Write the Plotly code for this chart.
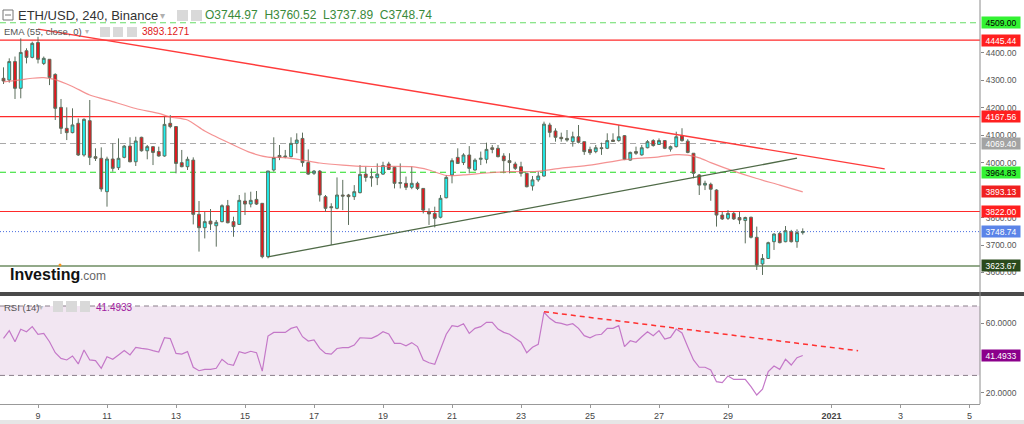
import plotly.graph_objects as go
import pandas as pd

# ---------------- data ----------------
opens = [4306.7, 4300.6, 4367.6, 4270.3, 4407, 4383, 4437, 4361, 4376, 4321,
         4201, 4124.7, 4109, 4143, 4027.6, 4152.6, 4021.5, 4015.5, 3894, 4013,
         3981.5, 4019, 4060, 4003, 4092, 4043, 4058, 4040, 4024, 4143,
         4131, 3999.7, 3985, 4009, 3811.6, 3763, 3787, 3770, 3785, 3843,
         3785, 3775, 3860, 3849, 3866, 3851.7, 3657.6, 3973, 4026, 4024,
         4021.5, 4070, 4088, 4000, 3961, 3969, 3876, 3839.5, 3833.5, 3882,
         3882, 3876, 3890.5, 3958, 3948.7, 3945, 3958, 3995, 3983, 3924.5,
         3924.5, 3910, 3924.5, 3906, 3821, 3815, 3801, 3872, 3955, 4019,
         4000, 4027.6, 3973, 4012, 4012, 4054, 4052, 4024, 4007, 3995,
         3985, 3961, 3915, 3937, 3951, 4136.8, 4115, 4092, 4088, 4076,
         4094, 4076, 4048, 4040, 4054, 4052, 4082, 4080, 4098, 4009,
         4040, 4028, 4054, 4080, 4066, 4080, 4049, 4058, 4097, 4078,
         4034, 3955, 3918, 3921, 3900, 3809, 3797, 3815, 3800, 3789,
         3801, 3728, 3631, 3651, 3712, 3742, 3712, 3748.5, 3712, 3744.97]
highs = [4346.7, 4379.5, 4386, 4452, 4416, 4440, 4458, 4386, 4376, 4325,
         4231.5, 4201, 4197.5, 4161, 4161, 4227.8, 4052, 4055.5, 4021.5, 4070,
         4088, 4064, 4092, 4094, 4094, 4064, 4058, 4058, 4167, 4173,
         4131, 4046, 4021.5, 4019, 3860, 3821, 3831, 3791, 3848, 3864,
         3803, 3882, 3890.5, 3894, 3896.6, 3852, 3969.4, 4092, 4064, 4046,
         4092, 4106.5, 4109, 4048, 3973, 3973, 3882, 3852, 3946, 3937,
         3886, 3918, 3991, 3985, 3979, 3997, 4003, 4003, 3985, 3997,
         3949, 3985, 3930.5, 3906, 3833.5, 3839.5, 3882, 3955, 4015.5, 4052,
         4034, 4060, 4015.5, 4040, 4072.5, 4064, 4064, 4034, 4034, 4003,
         4003, 3963, 3951, 3967, 4149, 4145, 4124.7, 4109, 4118.6, 4112.5,
         4136.8, 4076, 4058, 4064, 4072.5, 4106.5, 4106.5, 4137, 4100.4, 4040,
         4058, 4064, 4082, 4085, 4088, 4082, 4062, 4112.5, 4125, 4085,
         4034, 3958, 3934, 3927, 3903, 3821, 3827, 3821, 3821, 3803,
         3803, 3767, 3667, 3712, 3742, 3748.5, 3769, 3755, 3757, 3760.52]
lows = [4286, 4291, 4231.5, 4234, 4361, 4379.5, 4361, 4355, 4282, 4155,
        4104, 4082, 4106.5, 4024, 4021.5, 3991, 4005.8, 3894, 3839.6, 3967,
        3973, 4015.5, 4001, 3987.6, 4040, 4012, 3991, 4021.5, 4021.5, 4125,
        3961, 3983, 3973, 3775, 3676, 3724, 3754.6, 3694, 3782.5, 3779,
        3730, 3773, 3809, 3837, 3845.6, 3651.5, 3651.5, 3967, 4009, 4015.5,
        4019, 4034, 3985, 3955, 3955, 3858, 3821, 3700, 3830, 3827,
        3773, 3864, 3888, 3930.5, 3912, 3918, 3955, 3973, 3906, 3906,
        3900, 3903, 3900, 3815, 3773, 3764, 3797, 3870, 3924.5, 3995,
        3991, 3961, 3970.6, 3991, 3997, 4034, 4019, 3961, 3961, 3973,
        3949, 3910, 3898, 3930, 3949, 4092, 4076, 4076, 4076, 4058,
        4070, 4028, 4028, 4034, 4028, 4049, 4076, 4076, 4009, 4007,
        4028, 4025, 4052, 4058, 4064, 4049, 4040, 4055, 4076, 4034,
        3943, 3882, 3900, 3861, 3767, 3791, 3791, 3791, 3776, 3706,
        3724, 3609, 3591, 3649, 3682, 3706, 3710, 3709, 3690, 3737.89]
closes = [4297, 4367.6, 4270.3, 4401, 4383, 4434, 4376, 4379.5, 4310, 4197.5,
          4124.7, 4109, 4137, 4027.6, 4157.4, 4019, 4015.5, 3903.9, 4013, 3979,
          4015.5, 4060, 4003, 4078.6, 4043, 4058, 4037, 4024, 4139, 4131,
          3997, 3985, 4012, 3811.6, 3763, 3785, 3776.5, 3782.5, 3843, 3781,
          3767, 3862.6, 3849, 3862.6, 3849, 3657.6, 3969.4, 4018, 4019, 4021.5,
          4070, 4082, 4000, 3958, 3969, 3882, 3833.5, 3836, 3882, 3878,
          3876, 3894, 3957, 3946, 3945, 3958, 3989, 3975, 3924.5, 3927,
          3910, 3924.5, 3906, 3827, 3813, 3797, 3870, 3946, 4007, 3997,
          4027.6, 3979, 4009, 4015.5, 4048, 4048, 4021.5, 4007, 4000, 3979,
          3961, 3912, 3937, 3951, 4140, 4110, 4092, 4087, 4082, 4094,
          4074, 4040, 4036, 4054, 4051, 4080, 4077, 4094, 4012, 4037,
          4034, 4054, 4076, 4062, 4080, 4052, 4058, 4094, 4080, 4037,
          3961, 3918, 3924.5, 3903, 3809, 3795, 3815, 3795, 3791, 3800,
          3728, 3627, 3651, 3708.5, 3740, 3708.5, 3752, 3712, 3745, 3748.74]
rsi = [51.4, 55.8, 49.4, 56.6, 55.2, 58.1, 53.7, 54.2, 49.4, 43.1,
       39.8, 38.9, 41.2, 36.6, 44.6, 38.9, 38.5, 34.1, 40.8, 39.3,
       41.8, 44.3, 41.8, 46.2, 45.6, 45.2, 44.3, 43.5, 51.7, 51.2,
       42.7, 42.3, 43.7, 34.7, 32.7, 33.5, 33.5, 34.1, 39.3, 36.6,
       35.8, 43.7, 42.7, 43.9, 43.1, 32.5, 52.7, 54.8, 54.8, 54.8,
       57.1, 58.1, 52.3, 49.8, 50.4, 45.6, 42.7, 42.3, 45.5, 46.0,
       46.0, 47.5, 51.7, 51.5, 51.4, 52.9, 55.2, 53.9, 48.5, 48.5,
       47.1, 48.9, 46.6, 38.9, 37.3, 36.4, 45.6, 53.7, 58.7, 58.1,
       59.8, 54.2, 57.1, 58.1, 60.6, 60.6, 56.7, 54.8, 53.7, 51.4,
       49.1, 43.1, 46.2, 47.9, 66.4, 62.9, 60.6, 60.0, 59.0, 59.8,
       57.1, 52.9, 51.7, 53.3, 53.7, 57.1, 57.1, 58.7, 46.6, 50.0,
       49.1, 52.3, 55.2, 52.9, 55.8, 51.0, 51.9, 56.7, 54.5, 46.5,
       38.9, 34.7, 34.7, 33.1, 26.4, 25.8, 29.7, 27.7, 27.7, 27.7,
       23.5, 18.7, 22.0, 32.2, 35.4, 33.5, 39.3, 36.0, 40.2, 41.4933]
times = pd.date_range("2020-12-08 00:00", periods=len(closes), freq="4h")

ema_times = ["2020-12-08 00:00", "2020-12-08 12:00", "2020-12-08 20:00", "2020-12-09 04:00",
             "2020-12-09 12:00", "2020-12-10 00:00", "2020-12-10 12:00", "2020-12-11 04:00",
             "2020-12-11 20:00", "2020-12-12 12:00", "2020-12-12 20:00", "2020-12-13 08:00",
             "2020-12-13 20:00", "2020-12-14 16:00", "2020-12-15 04:00", "2020-12-15 16:00",
             "2020-12-16 04:00", "2020-12-16 16:00", "2020-12-17 04:00", "2020-12-17 20:00",
             "2020-12-18 12:00", "2020-12-19 20:00", "2020-12-20 08:00", "2020-12-20 20:00",
             "2020-12-21 08:00", "2020-12-22 00:00", "2020-12-22 16:00", "2020-12-23 08:00",
             "2020-12-23 16:00", "2020-12-24 04:00", "2020-12-25 00:00", "2020-12-26 00:00",
             "2020-12-27 00:00", "2020-12-27 12:00", "2020-12-27 20:00", "2020-12-28 04:00",
             "2020-12-28 12:00", "2020-12-29 04:00", "2020-12-29 20:00", "2020-12-30 12:00",
             "2020-12-31 04:00"]
ema_vals = [4294, 4301, 4307, 4309, 4302, 4277, 4246, 4222, 4197, 4179, 4166, 4155,
            4115, 4064, 4036, 4020, 4018, 4009, 3998.5, 3991, 3986, 3985, 3973, 3953,
            3955, 3962, 3967, 3967, 3971, 3980, 3991, 4011, 4021, 4029, 4027, 4017,
            4000, 3969, 3942, 3918, 3893.13]

res_times = ["2020-12-09 00:00", "2021-01-02 13:00"]
res_prices = [4486, 3977]
sup_times = ["2020-12-15 16:00", "2020-12-31 00:00"]
sup_prices = [3657, 4016]
rsi_trend_times = ["2020-12-23 16:00", "2021-01-01 18:30"]
rsi_trend_vals = [66.7, 44.2]

level_prices = [4509.00, 4445.44, 4167.56, 4069.40, 3964.83, 3822.00, 3748.74, 3623.67]
level_labels = ["4509.00", "4445.44", "4167.56", "4069.40", "3964.83", "3822.00", "3748.74", "3623.67"]
ema_label = "3893.13"
rsi_label = "41.4933"

price_ticks = [3600, 3700, 3800, 4000, 4100, 4200, 4300, 4400]
rsi_ticks = [20, 60]
date_ticks = ["2020-12-09", "2020-12-11", "2020-12-13", "2020-12-15", "2020-12-17", "2020-12-19",
              "2020-12-21", "2020-12-23", "2020-12-25", "2020-12-27", "2020-12-29", "2021-01-01",
              "2021-01-03", "2021-01-05"]
date_labels = ["9", "11", "13", "15", "17", "19", "21", "23", "25", "27", "29", "<b>2021</b>", "3", "5"]

# ---------------- styling ----------------
W, H = 1024, 424
ML, MR, MT, MB = 0, 44, 0, 20
PW, PH = W - ML - MR, H - MT - MB
FONT = "Liberation Sans, Arial, sans-serif"

def px(x):
    return x / PW

def py(y):
    return (PH - y) / PH

level_styles = [
    dict(color="#66dd66", dash="6px,4px", width=1),
    dict(color="#ff2a2a", dash="solid", width=1.2),
    dict(color="#ff2a2a", dash="solid", width=1.2),
    dict(color="#a8a8a8", dash="6px,4px", width=1),
    dict(color="#22dd22", dash="6px,4px", width=1.2),
    dict(color="#ff2a2a", dash="solid", width=1.2),
    dict(color="#4a6ee0", dash="1px,2px", width=1),
    dict(color="#6e8c62", dash="solid", width=1.5),
]
box_styles = [("#33f233", "#000000"), ("#ff1f1f", "#ffffff"), ("#ff1f1f", "#ffffff"),
              ("#a3a3a3", "#ffffff"), ("#33f233", "#000000"), ("#ff1f1f", "#ffffff"),
              ("#5b84e8", "#ffffff"), ("#2a4a1c", "#ffffff")]

fig = go.Figure()

fig.add_trace(go.Scatter(x=ema_times, y=ema_vals, mode="lines",
                         line=dict(color="rgba(240,110,110,0.75)", width=1.2, shape="spline", smoothing=0.6),
                         xaxis="x", yaxis="y", hoverinfo="skip"))
fig.add_trace(go.Scatter(x=res_times, y=res_prices, mode="lines",
                         line=dict(color="#ff3b3b", width=1.4), xaxis="x", yaxis="y"))
fig.add_trace(go.Scatter(x=sup_times, y=sup_prices, mode="lines",
                         line=dict(color="#4f6a47", width=1.3), xaxis="x", yaxis="y"))

fig.add_trace(go.Candlestick(
    x=times, open=opens, high=highs, low=lows, close=closes,
    increasing=dict(fillcolor="#1ef0f0", line=dict(color="#5c6e5c", width=1)),
    decreasing=dict(fillcolor="#e8141c", line=dict(color="#5c6e5c", width=1)),
    whiskerwidth=0, xaxis="x", yaxis="y"))

fig.add_trace(go.Scatter(x=times, y=rsi, mode="lines",
                         line=dict(color="#c478c8", width=1.2), xaxis="x2", yaxis="y2"))
fig.add_trace(go.Scatter(x=rsi_trend_times, y=rsi_trend_vals, mode="lines",
                         line=dict(color="#ff3030", width=1.5, dash="5px,4px"), xaxis="x2", yaxis="y2"))

shapes = []
for p, st in zip(level_prices, level_styles):
    shapes.append(dict(type="line", xref="paper", yref="y", x0=0, x1=1, y0=p, y1=p,
                       line=dict(color=st["color"], width=st["width"], dash=st["dash"]), layer="below"))
# RSI band
shapes.append(dict(type="rect", xref="paper", yref="y2", x0=0, x1=1, y0=30, y1=70,
                   fillcolor="rgba(150,50,150,0.12)", line=dict(width=0), layer="below"))
for v in (30, 70):
    shapes.append(dict(type="line", xref="paper", yref="y2", x0=0, x1=1, y0=v, y1=v,
                       line=dict(color="#8a7f8a", width=1, dash="5px,4px"), layer="below"))
# pane separator
shapes.append(dict(type="rect", xref="paper", yref="paper", x0=0, x1=W / PW, y0=py(296), y1=py(292),
                   fillcolor="#4a4a4a", line=dict(width=0)))
# right axis line
shapes.append(dict(type="line", xref="paper", yref="paper", x0=1, x1=1, y0=0, y1=1,
                   line=dict(color="#8c8c8c", width=1)))
# bottom strip
shapes.append(dict(type="rect", xref="paper", yref="paper", x0=0, x1=W / PW, y0=py(424), y1=py(420),
                   fillcolor="#e6e6e6", line=dict(width=0)))
# legend icons
for (x0, x1, y0, y1) in [(177, 188, 10, 21), (191, 202, 10, 21),
                         (100, 110, 27, 37), (113, 123, 27, 37), (127, 137, 27, 37),
                         (53, 63, 301, 312), (66, 77, 301, 312), (80, 90, 301, 312)]:
    shapes.append(dict(type="rect", xref="paper", yref="paper", x0=px(x0), x1=px(x1),
                       y0=py(y1), y1=py(y0), fillcolor="#d9d9d9", line=dict(width=0)))
# collapse box
shapes.append(dict(type="rect", xref="paper", yref="paper", x0=px(3), x1=px(13), y0=py(20), y1=py(10),
                   fillcolor="white", line=dict(color="#777", width=1)))
shapes.append(dict(type="line", xref="paper", yref="paper", x0=px(5), x1=px(11), y0=py(15), y1=py(15),
                   line=dict(color="#777", width=1)))
# orange dot of logo
shapes.append(dict(type="circle", xref="paper", yref="paper", x0=px(58.5), x1=px(61.5), y0=py(266.5), y1=py(263.5),
                   fillcolor="#f7941d", line=dict(width=0)))

annotations = []

def box(y, yref, text, bg, fg):
    annotations.append(dict(x=1, xref="paper", y=y, yref=yref, text=text, showarrow=False,
                            xanchor="left", yanchor="middle", xshift=1, bgcolor=bg, width=38, height=11,
                            borderpad=0, align="center", font=dict(family=FONT, size=8.5, color=fg)))

for p, lab, (bg, fg) in zip(level_prices, level_labels, box_styles):
    box(p, "y", lab, bg, fg)
box(ema_vals[-1], "y", ema_label, "#f02020", "#ffffff")
box(rsi[-1], "y2", rsi_label, "#8b008b", "#ffffff")

def text(x, y, s, size, color, bold=False):
    annotations.append(dict(x=px(x), y=py(y), xref="paper", yref="paper", text=("<b>%s</b>" % s) if bold else s,
                            showarrow=False, xanchor="left", yanchor="middle", borderpad=0,
                            font=dict(family=FONT, size=size, color=color)))

text(17, 15, "ETH/USD, 240, Binance", 13, "#333333")
text(159, 15, "▾", 10, "#b0b0b0")
text(204, 15, "O3744.97  H3760.52  L3737.89  C3748.74", 12, "#3a8a3a")
text(3, 32, "EMA (55, close, 0)", 9.5, "#555555")
text(84, 32, "▾", 8, "#b8b8b8")
text(141, 32, "3893.1271", 10, "#e01818")
text(3, 307, "RSI (14)", 9.5, "#555555")
text(38, 307, "▾", 8, "#b8b8b8")
text(95, 307, "41.4933", 10, "#a020a0")
text(9, 274, "Investing", 16, "#111111", bold=True)
text(79, 276, ".com", 12, "#666666")

xrange = ["2020-12-07 21:34", "2021-01-05 07:18"]

fig.update_layout(
    width=W, height=H, margin=dict(l=ML, r=MR, t=MT, b=MB, autoexpand=False),
    paper_bgcolor="white", plot_bgcolor="white", showlegend=False, hovermode=False,
    font=dict(family=FONT, size=9, color="#555"),
    xaxis=dict(domain=[0, 1], anchor="y", range=xrange, type="date", showticklabels=False,
               showgrid=False, zeroline=False, showline=False, rangeslider=dict(visible=False)),
    yaxis=dict(domain=[py(290), 1], anchor="x", side="right", range=[3536.2, 4591.8],
               tickvals=price_ticks, tickformat=".2f", ticks="outside", ticklen=3, tickcolor="#888",
               tickfont=dict(size=8.5, color="#555"), showgrid=False, zeroline=False),
    xaxis2=dict(domain=[0, 1], anchor="y2", matches="x", range=xrange, type="date",
                tickvals=date_ticks, ticktext=date_labels, ticks="outside", ticklen=3, tickcolor="#999",
                showline=True, linecolor="#999", tickfont=dict(size=9, color="#444"),
                showgrid=False, zeroline=False),
    yaxis2=dict(domain=[0, py(297)], anchor="x2", side="right", range=[13.52, 75.19],
                tickvals=rsi_ticks, tickformat=".4f", ticks="outside", ticklen=3, tickcolor="#888",
                tickfont=dict(size=8.5, color="#555"), showgrid=False, zeroline=False),
    shapes=shapes, annotations=annotations,
)

fig.write_html("out.html", config={"displayModeBar": False, "staticPlot": True},
               post_script="document.body.style.margin='0px';document.body.style.overflow='hidden';")
